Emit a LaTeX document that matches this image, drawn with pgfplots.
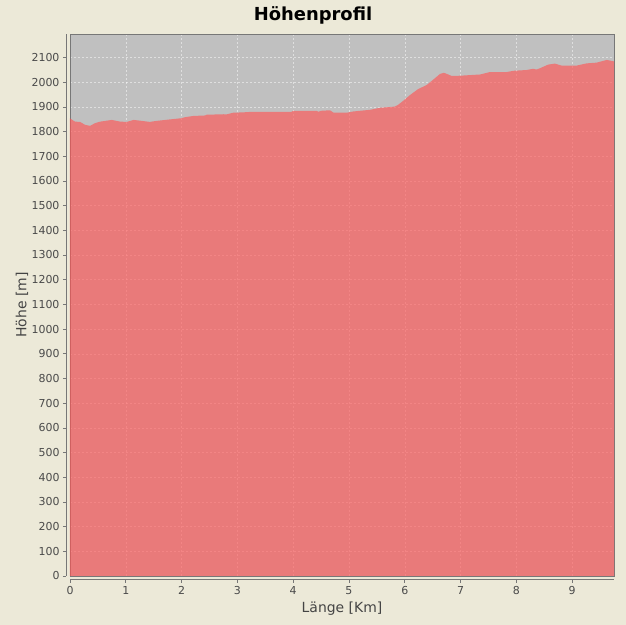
\documentclass[border=0pt]{standalone}
\usepackage{pgfplots}
\pgfplotsset{compat=1.18}
\usepackage{fontspec}
\setmainfont{DejaVu Sans}
\definecolor{bgc}{HTML}{ECE9D8}
\definecolor{plotbg}{HTML}{C0C0C0}
\definecolor{fillred}{HTML}{FF5555}
\definecolor{framec}{HTML}{777777}
\definecolor{ticklab}{HTML}{4A4A4A}
\definecolor{labc}{HTML}{444444}
\begin{document}
\begin{tikzpicture}[x=1bp,y=1bp]
\path[use as bounding box, fill=bgc] (-70,-49) rectangle (556,576);
\begin{axis}[
  at={(0,0)}, anchor=south west,
  scale only axis, width=544bp, height=542bp,
  xmin=0, xmax=9.75, ymin=0, ymax=2195,
  xtick={0,1,...,9}, ytick={0,100,...,2100},
  tick pos=left, tick align=outside,
  major tick length=3.5bp,
  y tick style={xshift=-3.5bp, framec, line width=0.6pt},
  x tick style={yshift=-3.5bp, framec, line width=0.6pt},
  yticklabel style={xshift=-3.5bp, font=\fontsize{11}{12}\selectfont, text=ticklab},
  xticklabel style={yshift=-3.5bp, font=\fontsize{11}{12}\selectfont, text=ticklab},
  /pgf/number format/assume math mode=true,
  /pgf/number format/1000 sep={},
  axis background/.style={fill=plotbg},
  axis line style={framec, line width=0.6pt},
  grid=major,
  major grid style={white, opacity=0.5, dash pattern=on 2bp off 2bp, line width=0.5pt},
]
\addplot[draw=none, fill=fillred, fill opacity=0.65] coordinates {
(0,1853) (0.09,1840) (0.18,1839) (0.27,1827) (0.36,1823) (0.45,1834) (0.54,1840)
(0.63,1843) (0.75,1847) (0.90,1840) (1.02,1839) (1.14,1847) (1.29,1843) (1.43,1839)
(1.55,1843) (1.79,1849) (2.00,1854) (2.06,1858) (2.21,1863) (2.42,1865) (2.45,1868)
(2.75,1870) (2.80,1869) (2.92,1876) (3.13,1878) (3.27,1880) (3.97,1880) (4.00,1884)
(4.42,1884) (4.45,1880) (4.50,1884) (4.66,1886) (4.72,1877) (4.98,1877) (5.07,1881)
(5.20,1884) (5.38,1888) (5.55,1896) (5.82,1901) (5.88,1908) (5.97,1924) (6.09,1947)
(6.24,1972) (6.39,1988) (6.51,2010) (6.63,2033) (6.70,2038) (6.78,2031) (6.84,2025)
(6.99,2026) (7.35,2031) (7.53,2041) (7.83,2041) (7.95,2046) (8.18,2049) (8.30,2054)
(8.36,2051) (8.42,2056) (8.57,2071) (8.69,2075) (8.81,2067) (9.08,2067) (9.26,2076)
(9.44,2079) (9.62,2090) (9.75,2084)
} \closedcycle;
\end{axis}
\draw[framec, line width=0.6pt] (-3.5,0) -- (-3.5,542);
\draw[framec, line width=0.6pt] (0,-3.5) -- (544,-3.5);
\node[font=\bfseries\fontsize{18}{20}\selectfont, text=black] at (243,561) {Höhenprofil};
\node[font=\fontsize{14}{16}\selectfont, text=labc] at (272,-33) {Länge [Km]};
\node[font=\fontsize{14}{16}\selectfont, text=labc, rotate=90] at (-48,271) {Höhe [m]};
\end{tikzpicture}
\end{document}
